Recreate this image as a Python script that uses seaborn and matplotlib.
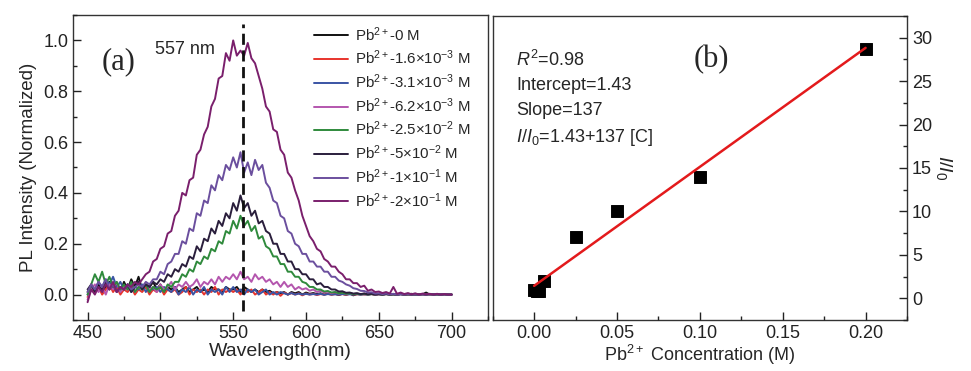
import numpy as np
import pandas as pd
import matplotlib
matplotlib.use("Agg")
import matplotlib.pyplot as plt
from matplotlib.ticker import MultipleLocator, FormatStrFormatter
import seaborn as sns

sns.set_style("ticks")
plt.rcParams['font.family'] = ['Liberation Sans', 'DejaVu Sans']
plt.rcParams['mathtext.fontset'] = 'custom'
plt.rcParams['mathtext.rm'] = 'Liberation Sans'
plt.rcParams['mathtext.it'] = 'Liberation Sans:italic'
plt.rcParams.update({'xtick.direction': 'in', 'ytick.direction': 'in',
                     'xtick.major.size': 5.5, 'ytick.major.size': 5.5,
                     'xtick.minor.size': 3, 'ytick.minor.size': 3,
                     'xtick.major.width': 1, 'ytick.major.width': 1,
                     'xtick.minor.width': 1, 'ytick.minor.width': 1,
                     'xtick.color': '#222222', 'ytick.color': '#222222',
                     'axes.axisbelow': False})

# %% data -- panel (a): PL spectra, 450-700 nm every 2.5 nm
wavelength = np.arange(450, 700.1, 2.5)

pl_0 = [0.01, 0.03, 0.02, 0.04, 0.01, 0.03, 0.05, 0.02, 0.04, 0.01,
        0.05, 0.02, 0.06, 0.03, 0.07, 0.02, 0.04, 0.03, 0.05, 0.02,
        0.04, 0.01, 0.03, 0.02, 0.03, 0.01, 0.02, 0.03, 0.01, 0.02,
        0.03, 0.01, 0.02, 0.01, 0.03, 0.02, 0.02, 0.01, 0.03, 0.02,
        0.02, 0.03, 0.01, 0.03, 0.02, 0.01, 0.02, 0.01, 0.02, 0.01,
        0.015, 0.005, 0.01, 0.005, 0.01, 0.0, 0.01, 0.005, 0.01, 0.0,
        0.008, 0.003, 0.006, 0.002, 0.005, 0.0, 0.004, 0.001, 0.003, -0.002,
        0.003, 0.0, 0.004, -0.003, 0.002, 0.0, 0.003, 0.001, 0.002, 0.0,
        0.002, 0.0, 0.003, 0.001, 0.002, -0.001, 0.002, 0.0, 0.001, 0.003,
        0.0, 0.002, 0.001, 0.008, 0.0, 0.002, 0.001, 0.0, 0.002, 0.0,
        0.0]
pl_16e3 = [-0.01, 0.02, 0.01, 0.03, 0.0, 0.02, 0.04, 0.01, 0.03, 0.0,
           0.02, 0.01, 0.03, 0.0, 0.02, 0.01, 0.03, 0.0, 0.02, 0.01,
           0.03, 0.0, 0.02, 0.01, 0.02, 0.0, 0.01, 0.03, 0.0, 0.02,
           0.01, 0.02, 0.0, 0.02, 0.01, 0.03, 0.0, 0.02, 0.01, 0.02,
           0.01, 0.02, 0.0, 0.02, 0.01, 0.02, 0.0, 0.01, 0.02, 0.0,
           0.01, 0.0, 0.01, -0.005, 0.008, 0.0, 0.006, 0.0, 0.005, -0.003,
           0.004, 0.0, 0.003, -0.002, 0.002, 0.0, 0.003, -0.001, 0.002, 0.0,
           0.002, -0.002, 0.003, 0.0, 0.001, 0.002, 0.0, 0.001, 0.002, -0.001,
           0.001, 0.0, 0.002, 0.0, 0.001, 0.0, 0.002, -0.001, 0.001, 0.0,
           0.001, 0.0, 0.002, 0.0, 0.001, 0.0, 0.002, 0.0, 0.001, 0.0,
           0.0]
pl_31e3 = [0.0, 0.03, 0.02, 0.05, 0.03, 0.06, 0.04, 0.07, 0.03, 0.05,
           0.02, 0.04, 0.01, 0.03, 0.02, 0.04, 0.01, 0.03, 0.02, 0.03,
           0.01, 0.03, 0.02, 0.01, 0.03, 0.0, 0.02, 0.01, 0.03, 0.0,
           0.02, 0.01, 0.03, 0.0, 0.02, 0.01, 0.02, 0.0, 0.03, 0.01,
           0.03, 0.01, 0.02, 0.0, 0.02, 0.01, 0.02, 0.0, 0.01, 0.02,
           0.0, 0.01, 0.0, 0.01, 0.005, 0.0, 0.006, 0.0, 0.004, 0.0,
           0.003, 0.0, 0.002, 0.0, 0.003, -0.001, 0.002, 0.0, 0.001, 0.0,
           0.002, 0.0, 0.001, 0.0, 0.002, 0.0, 0.001, 0.0, 0.002, 0.0,
           0.001, 0.0, 0.002, 0.0, 0.001, 0.0, 0.001, 0.0, 0.002, 0.0,
           0.001, 0.0, 0.001, 0.0, 0.002, 0.0, 0.001, 0.0, 0.001, 0.0,
           0.0]
pl_62e3 = [-0.02, 0.02, 0.04, 0.01, 0.03, 0.0, 0.04, 0.02, 0.05, 0.01,
           0.03, 0.02, 0.04, 0.01, 0.03, 0.02, 0.04, 0.02, 0.03, 0.01,
           0.04, 0.02, 0.03, 0.05, 0.02, 0.04, 0.03, 0.05, 0.03, 0.04,
           0.06, 0.03, 0.05, 0.04, 0.06, 0.04, 0.07, 0.05, 0.07, 0.06,
           0.08, 0.06, 0.09, 0.06, 0.07, 0.05, 0.08, 0.06, 0.07, 0.05,
           0.06, 0.04, 0.05, 0.03, 0.05, 0.03, 0.04, 0.02, 0.03, 0.02,
           0.025, 0.015, 0.02, 0.01, 0.015, 0.008, 0.012, 0.005, 0.01, 0.004,
           0.008, 0.003, 0.006, 0.002, 0.005, 0.001, 0.004, 0.0, 0.003, 0.001,
           0.003, 0.0, 0.002, 0.001, 0.002, 0.0, 0.002, 0.0, 0.001, 0.0,
           0.002, 0.0, 0.001, 0.0, 0.002, 0.0, 0.001, 0.0, 0.001, 0.0,
           0.0]
pl_25e2 = [0.0, 0.04, 0.08, 0.05, 0.09, 0.04, 0.07, 0.03, 0.05, 0.02,
           0.04, 0.02, 0.05, 0.01, 0.03, 0.02, 0.04, 0.01, 0.03, 0.02,
           0.03, 0.01, 0.04, 0.03, 0.05, 0.05, 0.08, 0.07, 0.10, 0.09,
           0.13, 0.12, 0.15, 0.14, 0.18, 0.17, 0.21, 0.20, 0.25, 0.24,
           0.29, 0.26, 0.31, 0.27, 0.29, 0.25, 0.27, 0.22, 0.23, 0.19,
           0.18, 0.15, 0.15, 0.12, 0.12, 0.09, 0.09, 0.07, 0.07, 0.05,
           0.045, 0.03, 0.03, 0.02, 0.02, 0.012, 0.014, 0.008, 0.01, 0.005,
           0.007, 0.003, 0.005, 0.002, 0.004, 0.001, 0.003, 0.0, 0.002, 0.001,
           0.002, 0.0, 0.002, 0.0, 0.001, 0.0, 0.002, 0.0, 0.001, 0.0,
           0.001, 0.0, 0.002, 0.0, 0.001, 0.0, 0.001, 0.0, 0.001, 0.0,
           0.0]
pl_5e2 = [0.02, 0.04, 0.01, 0.03, 0.02, 0.05, 0.02, 0.04, 0.01, 0.03,
          0.02, 0.04, 0.01, 0.03, 0.05, 0.02, 0.04, 0.03, 0.05, 0.04,
          0.06, 0.05, 0.08, 0.07, 0.10, 0.09, 0.12, 0.11, 0.15, 0.14,
          0.19, 0.17, 0.22, 0.21, 0.26, 0.24, 0.29, 0.27, 0.32, 0.30,
          0.36, 0.33, 0.39, 0.34, 0.36, 0.31, 0.33, 0.28, 0.29, 0.25,
          0.24, 0.20, 0.20, 0.16, 0.16, 0.13, 0.13, 0.10, 0.10, 0.08,
          0.08, 0.06, 0.06, 0.04, 0.045, 0.03, 0.03, 0.02, 0.02, 0.012,
          0.013, 0.007, 0.008, 0.004, 0.005, 0.002, 0.004, 0.001, 0.003, 0.0,
          0.002, 0.0, 0.002, 0.0, 0.001, 0.0, 0.002, 0.0, 0.001, 0.0,
          0.001, 0.0, 0.001, 0.0, 0.002, 0.0, 0.001, 0.0, 0.001, 0.0,
          0.0]
pl_1e1 = [0.01, 0.04, 0.02, 0.05, 0.03, 0.06, 0.02, 0.04, 0.01, 0.03,
          0.02, 0.04, 0.02, 0.03, 0.04, 0.03, 0.05, 0.04, 0.06, 0.06,
          0.09, 0.08, 0.12, 0.13, 0.16, 0.16, 0.21, 0.20, 0.26, 0.25,
          0.32, 0.31, 0.37, 0.36, 0.43, 0.41, 0.47, 0.45, 0.51, 0.49,
          0.54, 0.50, 0.56, 0.48, 0.52, 0.47, 0.53, 0.49, 0.51, 0.44,
          0.42, 0.37, 0.36, 0.31, 0.30, 0.25, 0.24, 0.20, 0.19, 0.16,
          0.16, 0.13, 0.13, 0.11, 0.11, 0.09, 0.09, 0.07, 0.07, 0.055,
          0.05, 0.04, 0.035, 0.025, 0.022, 0.015, 0.014, 0.008, 0.009, 0.004,
          0.005, 0.002, 0.004, 0.001, 0.003, 0.0, 0.002, 0.0, 0.002, 0.0,
          0.001, 0.0, 0.002, 0.0, 0.001, 0.0, 0.002, 0.0, 0.001, 0.0,
          0.0]
pl_2e1 = [-0.03, 0.02, 0.0, 0.03, 0.01, 0.04, 0.02, 0.05, 0.01, 0.03,
          0.02, 0.04, 0.03, 0.05, 0.04, 0.06, 0.08, 0.09, 0.13, 0.14,
          0.18, 0.19, 0.24, 0.25, 0.31, 0.33, 0.40, 0.39, 0.45, 0.46,
          0.55, 0.57, 0.63, 0.66, 0.74, 0.77, 0.85, 0.86, 0.95, 0.92,
          1.00, 0.94, 0.96, 0.94, 0.99, 0.93, 0.91, 0.86, 0.81, 0.74,
          0.72, 0.65, 0.64, 0.57, 0.55, 0.48, 0.46, 0.41, 0.37, 0.31,
          0.27, 0.23, 0.21, 0.18, 0.17, 0.14, 0.13, 0.11, 0.11, 0.09,
          0.08, 0.06, 0.06, 0.045, 0.045, 0.03, 0.035, 0.015, 0.02, 0.01,
          0.012, 0.006, 0.01, 0.004, 0.03, 0.003, 0.008, 0.002, 0.006, 0.001,
          0.005, 0.0, 0.004, 0.001, 0.003, 0.0, 0.003, 0.0, 0.002, 0.0,
          0.0]

series_labels = ['Pb$^{2+}$-0 M', 'Pb$^{2+}$-1.6×10$^{-3}$ M', 'Pb$^{2+}$-3.1×10$^{-3}$ M',
                 'Pb$^{2+}$-6.2×10$^{-3}$ M', 'Pb$^{2+}$-2.5×10$^{-2}$ M', 'Pb$^{2+}$-5×10$^{-2}$ M',
                 'Pb$^{2+}$-1×10$^{-1}$ M', 'Pb$^{2+}$-2×10$^{-1}$ M']
series_colors = ['#111111', '#e8342c', '#3a54a4', '#b456ae', '#2f8a3c', '#2a1e3c', '#6b4f9e', '#7a1f6c']
spectra = [pl_0, pl_16e3, pl_31e3, pl_62e3, pl_25e2, pl_5e2, pl_1e1, pl_2e1]

# panel (b): I/I0 vs concentration
conc = [0.0, 0.0016, 0.0031, 0.0062, 0.025, 0.05, 0.1, 0.2]
ratio = [1.0, 0.8, 0.8, 2.0, 7.0, 10.0, 14.0, 28.7]
intercept, slope = 1.43, 137

df = pd.concat([pd.DataFrame({'wl': wavelength, 'I': s, 'conc': lab})
                for s, lab in zip(spectra, series_labels)], ignore_index=True)

# %% figure
fig = plt.figure(figsize=(9.71, 3.71), dpi=100)
ax1 = fig.add_axes([0.0752, 0.1375, 0.4274, 0.8221])
ax2 = fig.add_axes([0.5074, 0.1375, 0.4267, 0.8194])

sns.lineplot(data=df, x='wl', y='I', hue='conc', hue_order=series_labels,
             palette=series_colors, linewidth=1.4, ax=ax1)
ax1.axvline(557, ymin=0.03, ymax=0.97, color='#111111', lw=2, ls=(0, (4, 2)))
ax1.set_xlim(440, 725)
ax1.set_ylim(-0.1, 1.1)
ax1.xaxis.set_major_locator(MultipleLocator(50))
ax1.xaxis.set_minor_locator(MultipleLocator(25))
ax1.yaxis.set_major_locator(MultipleLocator(0.2))
ax1.yaxis.set_minor_locator(MultipleLocator(0.1))
ax1.set_xlabel('Wavelength(nm)', fontsize=14, labelpad=1)
ax1.set_ylabel('PL Intensity (Normalized)', fontsize=13.5, labelpad=4)
ax1.text(496, 0.965, '557 nm', fontsize=13, ha='left', va='center')
ax1.text(0.07, 0.846, '(a)', fontsize=22, family='Liberation Serif', transform=ax1.transAxes,
         ha='left', va='center')
ax1.legend(loc='upper left', bbox_to_anchor=(0.58, 0.967), frameon=False, fontsize=10.8,
           handlelength=2.3, handletextpad=0.45, labelspacing=0.34, borderpad=0, borderaxespad=0)

sns.scatterplot(x=conc, y=ratio, marker='s', s=70, color='black', edgecolor='black', ax=ax2, zorder=3)
fit_x = np.array([0.0, 0.2])
sns.lineplot(x=fit_x, y=intercept + slope * fit_x, color='#e31a1c', lw=1.8, ax=ax2, zorder=4)
ax2.set_xlim(-0.025, 0.225)
ax2.set_ylim(-2.5, 32.5)
ax2.xaxis.set_major_locator(MultipleLocator(0.05))
ax2.xaxis.set_minor_locator(MultipleLocator(0.025))
ax2.yaxis.set_major_locator(MultipleLocator(5))
ax2.yaxis.set_minor_locator(MultipleLocator(2.5))
ax2.xaxis.set_major_formatter(FormatStrFormatter('%.2f'))
ax2.yaxis.tick_right()
ax2.yaxis.set_label_position('right')
ax2.set_xlabel('Pb$^{2+}$ Concentration (M)', fontsize=13, labelpad=1)
ax2.set_ylabel('$I/I_0$', fontsize=14, rotation=270, labelpad=16)
notes = ['$R^2$=0.98', 'Intercept=1.43', 'Slope=137', '$I/I_0$=1.43+137 [C]']
for i, t in enumerate(notes):
    ax2.text(0.056, 0.862 - i * 0.0835, t, fontsize=13, transform=ax2.transAxes,
             ha='left', va='center_baseline')
ax2.text(0.527, 0.855, '(b)', fontsize=22, family='Liberation Serif', transform=ax2.transAxes,
         ha='center', va='center')

for ax in (ax1, ax2):
    for sp in ax.spines.values():
        sp.set_visible(True)
        sp.set_linewidth(1.0)
        sp.set_color('#333333')
    ax.tick_params(which='both', direction='in', labelsize=13)
ax1.tick_params(which='both', left=True, bottom=True, top=False, right=False)
ax2.tick_params(which='both', left=False, bottom=True, top=False, right=True)

fig.savefig('out.png', dpi=100)
